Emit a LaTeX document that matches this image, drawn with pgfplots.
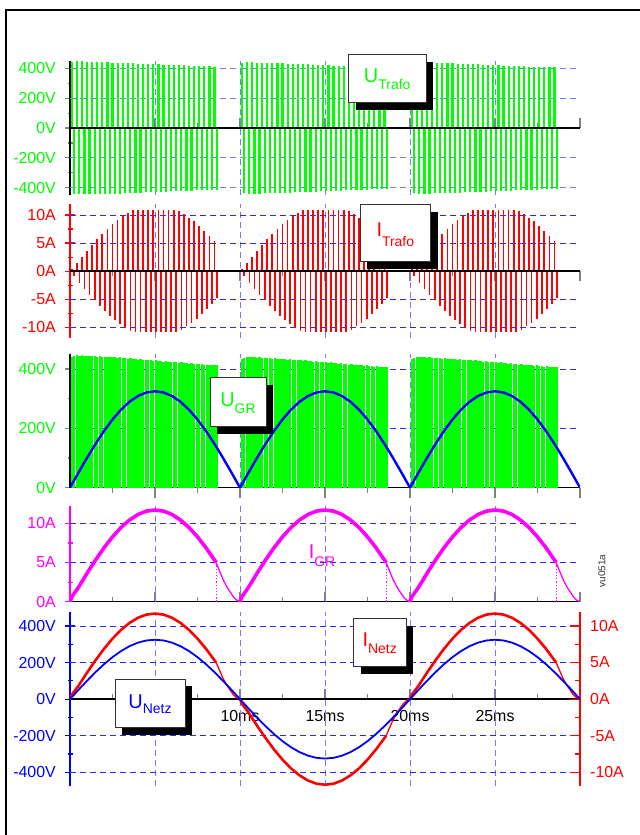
\documentclass[border=0pt]{standalone}
\usepackage{fontspec}
\setmainfont{Liberation Sans}
\usepackage{pgfplots}
\pgfplotsset{compat=1.18}

\definecolor{vgreen}{RGB}{0,255,0}
\definecolor{vred}{RGB}{255,0,0}
\definecolor{vmag}{RGB}{255,0,255}
\definecolor{vblue}{RGB}{0,0,255}
\definecolor{gridblue}{RGB}{40,40,255}
\definecolor{gridlight}{RGB}{120,120,255}

\tikzset{
  vlabel/.style={font=\fontsize{20}{20}\selectfont, inner sep=0pt},
  gridd/.style={gridblue, line width=0.9bp, dash pattern=on 6bp off 4bp},
  gridl/.style={gridlight, line width=1bp, dash pattern=on 6bp off 4bp},
}
\pgfplotsset{
  panel/.style={
    scale only axis, width=510bp, anchor=south west,
    xmin=0, xmax=30,
    axis x line=middle, axis y line=left,
    axis line style={-},
    x axis line style={black, line width=1.6bp},
    xtick={0,5,10,15,20,25,30},
    minor xtick={2.5,7.5,12.5,17.5,22.5,27.5},
    xticklabels={},
    major tick length=10bp, minor tick length=5bp,
    tick style={line width=1.2bp},
    tick label style={font=\fontsize{16}{16}\selectfont},
    yticklabel style={anchor=east, inner sep=0pt, xshift=-9bp},
  },
}
% dashed time grid of one panel, from the lower to the upper y limit
\newcommand{\timegrid}[2]{%
  \pgfplotsinvokeforeach{5,10,15,20,25}{\draw[gridl] (axis cs:##1,#1) -- (axis cs:##1,#2);}}
% dashed level grid at the given y values
\newcommand{\levelgrid}[2]{%
  \pgfplotsinvokeforeach{#2}{\draw[#1] (axis cs:0,##1) -- (axis cs:30,##1);}}
\newcommand{\sub}[2][7bp]{\raisebox{-#1}{\fontsize{14}{14}\selectfont #2}}

\begin{document}
\begin{tikzpicture}[x=1bp,y=1bp]
\useasboundingbox (0,0) rectangle (640,835);
\draw[line width=2bp] (6,0) -- (6,825) -- (640,825);

% ---------------- transformer voltage ----------------
\begin{axis}[panel, at={(70bp,639.8bp)}, height=134.3bp,
  ymin=-450, ymax=450,
  ytick={-400,-200,0,200,400}, yticklabels={-400V,-200V,0V,200V,400V},
  minor ytick={-300,-100,100,300},
  y axis line style={black, line width=1.6bp},
  yticklabel style={vgreen},
  xtick align=inside]
\timegrid{-450}{450}
\levelgrid{gridl}{-400,-200,200,400}
\addplot[ycomb, vgreen, line width=2.2bp] coordinates {
(0.10,440) (0.25,-444) (0.40,446) (0.55,-445) (0.70,446) (0.85,-445) (1.00,444) (1.15,-445) (1.30,443) (1.45,-444)
(1.60,442) (1.75,-443) (1.90,441) (2.05,-442) (2.20,440) (2.35,-441) (2.50,439) (2.65,-440) (2.80,438) (2.95,-439)
(3.10,436) (3.25,-437) (3.40,435) (3.55,-436) (3.70,434) (3.85,-435) (4.00,432) (4.15,-433) (4.30,431) (4.45,-432)
(4.60,429) (4.75,-430) (4.90,428) (5.05,-429) (5.20,427) (5.35,-428) (5.50,425) (5.65,-426) (5.80,424) (5.95,-425)
(6.10,423) (6.25,-424) (6.40,421) (6.55,-422) (6.70,420) (6.85,-421) (7.00,418) (7.15,-419) (7.30,417) (7.45,-418)
(7.60,416) (7.75,-417) (7.90,414) (8.05,-415) (8.20,413) (8.35,-414) (8.50,412) (8.65,-412)
(10.10,434) (10.25,-438) (10.40,440) (10.55,-439) (10.70,440) (10.85,-439) (11.00,438) (11.15,-439) (11.30,437) (11.45,-438)
(11.60,436) (11.75,-437) (11.90,435) (12.05,-436) (12.20,434) (12.35,-435) (12.50,433) (12.65,-434) (12.80,432) (12.95,-433)
(13.10,430) (13.25,-431) (13.40,429) (13.55,-430) (13.70,428) (13.85,-429) (14.00,426) (14.15,-427) (14.30,425) (14.45,-426)
(14.60,423) (14.75,-424) (14.90,422) (15.05,-423) (15.20,421) (15.35,-422) (15.50,419) (15.65,-420) (15.80,418) (15.95,-419)
(16.10,417) (16.25,-418) (16.40,415) (16.55,-416) (16.70,414) (16.85,-415) (17.00,412) (17.15,-413) (17.30,411) (17.45,-412)
(17.60,410) (17.75,-411) (17.90,408) (18.05,-409) (18.20,407) (18.35,-408) (18.50,406) (18.65,-406)
(20.10,434) (20.25,-438) (20.40,440) (20.55,-439) (20.70,440) (20.85,-439) (21.00,438) (21.15,-439) (21.30,437) (21.45,-438)
(21.60,436) (21.75,-437) (21.90,435) (22.05,-436) (22.20,434) (22.35,-435) (22.50,433) (22.65,-434) (22.80,432) (22.95,-433)
(23.10,430) (23.25,-431) (23.40,429) (23.55,-430) (23.70,428) (23.85,-429) (24.00,426) (24.15,-427) (24.30,425) (24.45,-426)
(24.60,423) (24.75,-424) (24.90,422) (25.05,-423) (25.20,421) (25.35,-422) (25.50,419) (25.65,-420) (25.80,418) (25.95,-419)
(26.10,417) (26.25,-418) (26.40,415) (26.55,-416) (26.70,414) (26.85,-415) (27.00,412) (27.15,-413) (27.30,411) (27.45,-412)
(27.60,410) (27.75,-411) (27.90,408) (28.05,-409) (28.20,407) (28.35,-408) (28.50,406) (28.65,-406)
};
\addplot[black, line width=1.6bp] coordinates {(0,0) (30,0)};
\end{axis}

% ---------------- transformer current ----------------
\begin{axis}[panel, at={(70bp,497.05bp)}, height=133.6bp,
  ymin=-11.9, ymax=11.9,
  ytick={-10,-5,0,5,10}, yticklabels={-10A,-5A,0A,5A,10A},
  minor ytick={-7.5,-2.5,2.5,7.5},
  y axis line style={vred, line width=1.6bp}, ytick style={vred},
  yticklabel style={vred},
  xtick align=outside]
\timegrid{-11.9}{11.9}
\levelgrid{gridd}{-10,-5,5,10}
\addplot[ycomb, vred, line width=1.7bp] coordinates {
(0.10,0.37) (0.25,-0.93) (0.40,1.48) (0.55,-2.03) (0.70,2.57) (0.85,-3.11) (1.00,3.65) (1.15,-4.17) (1.30,4.69) (1.45,-5.19)
(1.60,5.69) (1.75,-6.17) (1.90,6.63) (2.05,-7.08) (2.20,7.52) (2.35,-7.94) (2.50,8.34) (2.65,-8.73) (2.80,9.09) (2.95,-9.44)
(3.10,9.76) (3.25,-10.06) (3.40,10.34) (3.55,-10.60) (3.70,10.83) (3.85,-10.9) (4.00,10.9) (4.15,-10.9) (4.30,10.9) (4.45,-10.9)
(4.60,10.9) (4.75,-10.9) (4.90,10.9) (5.05,-10.9) (5.20,10.9) (5.35,-10.9) (5.50,10.9) (5.65,-10.9) (5.80,10.9) (5.95,-10.9)
(6.10,10.9) (6.25,-10.9) (6.40,10.68) (6.55,-10.43) (6.70,10.16) (6.85,-9.86) (7.00,9.55) (7.15,-9.21) (7.30,8.85) (7.45,-8.47)
(7.60,8.08) (7.75,-7.66) (7.90,7.23) (8.05,-6.79) (8.20,6.32) (8.35,-5.85) (8.50,5.36) (8.65,-4.86)
(10.10,0.37) (10.25,-0.93) (10.40,1.48) (10.55,-2.03) (10.70,2.57) (10.85,-3.11) (11.00,3.65) (11.15,-4.17) (11.30,4.69) (11.45,-5.19)
(11.60,5.69) (11.75,-6.17) (11.90,6.63) (12.05,-7.08) (12.20,7.52) (12.35,-7.94) (12.50,8.34) (12.65,-8.73) (12.80,9.09) (12.95,-9.44)
(13.10,9.76) (13.25,-10.06) (13.40,10.34) (13.55,-10.60) (13.70,10.83) (13.85,-10.9) (14.00,10.9) (14.15,-10.9) (14.30,10.9) (14.45,-10.9)
(14.60,10.9) (14.75,-10.9) (14.90,10.9) (15.05,-10.9) (15.20,10.9) (15.35,-10.9) (15.50,10.9) (15.65,-10.9) (15.80,10.9) (15.95,-10.9)
(16.10,10.9) (16.25,-10.9) (16.40,10.68) (16.55,-10.43) (16.70,10.16) (16.85,-9.86) (17.00,9.55) (17.15,-9.21) (17.30,8.85) (17.45,-8.47)
(17.60,8.08) (17.75,-7.66) (17.90,7.23) (18.05,-6.79) (18.20,6.32) (18.35,-5.85) (18.50,5.36) (18.65,-4.86)
(20.10,0.37) (20.25,-0.93) (20.40,1.48) (20.55,-2.03) (20.70,2.57) (20.85,-3.11) (21.00,3.65) (21.15,-4.17) (21.30,4.69) (21.45,-5.19)
(21.60,5.69) (21.75,-6.17) (21.90,6.63) (22.05,-7.08) (22.20,7.52) (22.35,-7.94) (22.50,8.34) (22.65,-8.73) (22.80,9.09) (22.95,-9.44)
(23.10,9.76) (23.25,-10.06) (23.40,10.34) (23.55,-10.60) (23.70,10.83) (23.85,-10.9) (24.00,10.9) (24.15,-10.9) (24.30,10.9) (24.45,-10.9)
(24.60,10.9) (24.75,-10.9) (24.90,10.9) (25.05,-10.9) (25.20,10.9) (25.35,-10.9) (25.50,10.9) (25.65,-10.9) (25.80,10.9) (25.95,-10.9)
(26.10,10.9) (26.25,-10.9) (26.40,10.68) (26.55,-10.43) (26.70,10.16) (26.85,-9.86) (27.00,9.55) (27.15,-9.21) (27.30,8.85) (27.45,-8.47)
(27.60,8.08) (27.75,-7.66) (27.90,7.23) (28.05,-6.79) (28.20,6.32) (28.35,-5.85) (28.50,5.36) (28.65,-4.86)
};
\addplot[black, line width=1.6bp] coordinates {(0,0) (30,0)};
\end{axis}

% ---------------- rectifier voltage ----------------
\begin{axis}[panel, at={(70bp,347.3bp)}, height=133.5bp,
  ymin=0, ymax=450,
  ytick={0,200,400}, yticklabels={0V,200V,400V},
  minor ytick={100,300},
  y axis line style={black, line width=1.6bp},
  yticklabel style={vgreen},
  xtick align=outside]
\timegrid{0}{450}
\levelgrid{gridd}{200,400}
\addplot[ycomb, vgreen, line width=2.3bp] coordinates {
(0.10,440) (0.25,444) (0.40,446) (0.55,445) (0.70,446) (0.85,445) (1.00,444) (1.15,445) (1.30,443) (1.45,444)
(1.60,442) (1.75,443) (1.90,441) (2.05,442) (2.20,440) (2.35,441) (2.50,439) (2.65,440) (2.80,438) (2.95,439)
(3.10,436) (3.25,437) (3.40,435) (3.55,436) (3.70,434) (3.85,435) (4.00,432) (4.15,433) (4.30,431) (4.45,432)
(4.60,429) (4.75,430) (4.90,428) (5.05,429) (5.20,427) (5.35,428) (5.50,425) (5.65,426) (5.80,424) (5.95,425)
(6.10,423) (6.25,424) (6.40,421) (6.55,422) (6.70,420) (6.85,421) (7.00,418) (7.15,419) (7.30,417) (7.45,418)
(7.60,416) (7.75,417) (7.90,414) (8.05,415) (8.20,413) (8.35,414) (8.50,412) (8.65,412)
(10.10,434) (10.25,438) (10.40,440) (10.55,439) (10.70,440) (10.85,439) (11.00,438) (11.15,439) (11.30,437) (11.45,438)
(11.60,436) (11.75,437) (11.90,435) (12.05,436) (12.20,434) (12.35,435) (12.50,433) (12.65,434) (12.80,432) (12.95,433)
(13.10,430) (13.25,431) (13.40,429) (13.55,430) (13.70,428) (13.85,429) (14.00,426) (14.15,427) (14.30,425) (14.45,426)
(14.60,423) (14.75,424) (14.90,422) (15.05,423) (15.20,421) (15.35,422) (15.50,419) (15.65,420) (15.80,418) (15.95,419)
(16.10,417) (16.25,418) (16.40,415) (16.55,416) (16.70,414) (16.85,415) (17.00,412) (17.15,413) (17.30,411) (17.45,412)
(17.60,410) (17.75,411) (17.90,408) (18.05,409) (18.20,407) (18.35,408) (18.50,406) (18.65,406)
(20.10,434) (20.25,438) (20.40,440) (20.55,439) (20.70,440) (20.85,439) (21.00,438) (21.15,439) (21.30,437) (21.45,438)
(21.60,436) (21.75,437) (21.90,435) (22.05,436) (22.20,434) (22.35,435) (22.50,433) (22.65,434) (22.80,432) (22.95,433)
(23.10,430) (23.25,431) (23.40,429) (23.55,430) (23.70,428) (23.85,429) (24.00,426) (24.15,427) (24.30,425) (24.45,426)
(24.60,423) (24.75,424) (24.90,422) (25.05,423) (25.20,421) (25.35,422) (25.50,419) (25.65,420) (25.80,418) (25.95,419)
(26.10,417) (26.25,418) (26.40,415) (26.55,416) (26.70,414) (26.85,415) (27.00,412) (27.15,413) (27.30,411) (27.45,412)
(27.60,410) (27.75,411) (27.90,408) (28.05,409) (28.20,407) (28.35,408) (28.50,406) (28.65,406)
};
\addplot[vblue, line width=2.4bp] coordinates {
(0,0) (0.5,50.8) (1,100.4) (1.5,147.5) (2,191.0) (2.5,229.8) (3,262.9) (3.5,289.6) (4,309.1) (4.5,321.0) (5,325)
(5.5,321.0) (6,309.1) (6.5,289.6) (7,262.9) (7.5,229.8) (8,191.0) (8.5,147.5) (9,100.4) (9.5,50.8) (10,0)
(10.5,50.8) (11,100.4) (11.5,147.5) (12,191.0) (12.5,229.8) (13,262.9) (13.5,289.6) (14,309.1) (14.5,321.0) (15,325)
(15.5,321.0) (16,309.1) (16.5,289.6) (17,262.9) (17.5,229.8) (18,191.0) (18.5,147.5) (19,100.4) (19.5,50.8) (20,0)
(20.5,50.8) (21,100.4) (21.5,147.5) (22,191.0) (22.5,229.8) (23,262.9) (23.5,289.6) (24,309.1) (24.5,321.0) (25,325)
(25.5,321.0) (26,309.1) (26.5,289.6) (27,262.9) (27.5,229.8) (28,191.0) (28.5,147.5) (29,100.4) (29.5,50.8) (30,0)
};
\end{axis}

% ---------------- rectifier current ----------------
\begin{axis}[panel, at={(70bp,233.3bp)}, height=95.6bp,
  ymin=0, ymax=12.2,
  ytick={0,5,10}, yticklabels={0A,5A,10A},
  minor ytick={2.5,7.5},
  y axis line style={vmag, line width=1.6bp}, ytick style={vmag},
  yticklabel style={vmag},
  xtick align=inside]
\timegrid{0}{12.2}
\levelgrid{gridd}{5,10}
\addplot[vmag, line width=3.6bp] coordinates {
(0,0) (0.1,0.6) (0.5,1.83) (1,3.62) (1.5,5.31) (2,6.88) (2.5,8.27) (3,9.47) (3.5,10.42) (4,11.13) (4.5,11.56) (5,11.7)
(5.5,11.56) (6,11.13) (6.5,10.42) (7,9.47) (7.5,8.27) (8,6.88) (8.5,5.31) (8.6,4.98)};
\addplot[vmag, line width=1.3bp] coordinates {
(8.6,4.98) (8.8,3.9) (9.0,2.85) (9.2,2.0) (9.4,1.3) (9.6,0.65) (9.8,0.2) (10,0)};
\addplot[vmag, line width=3.6bp] coordinates {
(10,0) (10.1,0.6) (10.5,1.83) (11,3.62) (11.5,5.31) (12,6.88) (12.5,8.27) (13,9.47) (13.5,10.42) (14,11.13) (14.5,11.56) (15,11.7)
(15.5,11.56) (16,11.13) (16.5,10.42) (17,9.47) (17.5,8.27) (18,6.88) (18.5,5.31) (18.6,4.98)};
\addplot[vmag, line width=1.3bp] coordinates {
(18.6,4.98) (18.8,3.9) (19.0,2.85) (19.2,2.0) (19.4,1.3) (19.6,0.65) (19.8,0.2) (20,0)};
\addplot[vmag, line width=3.6bp] coordinates {
(20,0) (20.1,0.6) (20.5,1.83) (21,3.62) (21.5,5.31) (22,6.88) (22.5,8.27) (23,9.47) (23.5,10.42) (24,11.13) (24.5,11.56) (25,11.7)
(25.5,11.56) (26,11.13) (26.5,10.42) (27,9.47) (27.5,8.27) (28,6.88) (28.5,5.31) (28.6,4.98)};
\addplot[vmag, line width=1.3bp] coordinates {
(28.6,4.98) (28.8,3.9) (29.0,2.85) (29.2,2.0) (29.4,1.3) (29.6,0.65) (29.8,0.2) (30,0)};
\addplot[vmag, line width=1.2bp, dotted] coordinates {(8.6,0) (8.6,4.98)};
\addplot[vmag, line width=1.2bp, dotted] coordinates {(18.6,0) (18.6,4.98)};
\addplot[vmag, line width=1.2bp, dotted] coordinates {(28.6,0) (28.6,4.98)};
\end{axis}

% ---------------- mains: voltage scale, grid and time labels ----------------
\begin{axis}[panel, at={(70bp,49bp)}, height=173.7bp,
  ymin=-475, ymax=475,
  ytick={-400,-200,0,200,400}, yticklabels={-400V,-200V,0V,200V,400V},
  minor ytick={-300,-100,100,300},
  y axis line style={vblue, line width=1.6bp}, ytick style={vblue},
  yticklabel style={vblue},
  xticklabels={{},{},10ms,15ms,20ms,25ms,{}},
  xticklabel style={black, anchor=north, inner sep=0pt, yshift=-11bp},
  xtick align=inside]
\timegrid{-475}{475}
\levelgrid{gridd}{-400,-200,200,400}
\addplot[black, line width=1.6bp] coordinates {(0,0) (30,0)};
\end{axis}

% mains current, right scale
\begin{axis}[scale only axis, width=510bp, height=173.7bp, at={(70bp,49bp)}, anchor=south west,
  xmin=0, xmax=30, ymin=-11.875, ymax=11.875,
  axis x line=none, axis y line*=right, axis line style={-},
  y axis line style={vred, line width=1.6bp},
  ytick={-10,-5,0,5,10}, yticklabels={-10A,-5A,0A,5A,10A},
  minor ytick={-7.5,-2.5,2.5,7.5},
  major tick length=10bp, minor tick length=5bp,
  tick style={line width=1.2bp}, ytick style={vred},
  tick label style={font=\fontsize{16}{16}\selectfont},
  yticklabel style={vred, anchor=west, inner sep=0pt, xshift=10bp}]
\addplot[vred, line width=2.6bp] coordinates {
(0,0) (0.1,0.6) (0.5,1.83) (1,3.62) (1.5,5.31) (2,6.88) (2.5,8.27) (3,9.47) (3.5,10.42) (4,11.13) (4.5,11.56) (5,11.7)
(5.5,11.56) (6,11.13) (6.5,10.42) (7,9.47) (7.5,8.27) (8,6.88) (8.5,5.31) (8.6,4.98)};
\addplot[vred, line width=1.3bp] coordinates {
(8.6,4.98) (8.8,3.9) (9.0,2.85) (9.2,2.0) (9.4,1.3) (9.6,0.65) (9.8,0.2) (10,0)};
\addplot[vred, line width=2.6bp] coordinates {
(10,0) (10.1,-0.6) (10.5,-1.83) (11,-3.62) (11.5,-5.31) (12,-6.88) (12.5,-8.27) (13,-9.47) (13.5,-10.42) (14,-11.13) (14.5,-11.56) (15,-11.7)
(15.5,-11.56) (16,-11.13) (16.5,-10.42) (17,-9.47) (17.5,-8.27) (18,-6.88) (18.5,-5.31) (18.6,-4.98)};
\addplot[vred, line width=1.3bp] coordinates {
(18.6,-4.98) (18.8,-3.9) (19.0,-2.85) (19.2,-2.0) (19.4,-1.3) (19.6,-0.65) (19.8,-0.2) (20,0)};
\addplot[vred, line width=2.6bp] coordinates {
(20,0) (20.1,0.6) (20.5,1.83) (21,3.62) (21.5,5.31) (22,6.88) (22.5,8.27) (23,9.47) (23.5,10.42) (24,11.13) (24.5,11.56) (25,11.7)
(25.5,11.56) (26,11.13) (26.5,10.42) (27,9.47) (27.5,8.27) (28,6.88) (28.5,5.31) (28.6,4.98)};
\addplot[vred, line width=1.3bp] coordinates {
(28.6,4.98) (28.8,3.9) (29.0,2.85) (29.2,2.0) (29.4,1.3) (29.6,0.65) (29.8,0.2) (30,0)};
\end{axis}

% mains voltage curve
\begin{axis}[scale only axis, width=510bp, height=173.7bp, at={(70bp,49bp)}, anchor=south west,
  xmin=0, xmax=30, ymin=-475, ymax=475, hide axis]
\addplot[vblue, line width=1.8bp] coordinates {
(0,0) (0.5,50.8) (1,100.4) (1.5,147.5) (2,191.0) (2.5,229.8) (3,262.9) (3.5,289.6) (4,309.1) (4.5,321.0) (5,325)
(5.5,321.0) (6,309.1) (6.5,289.6) (7,262.9) (7.5,229.8) (8,191.0) (8.5,147.5) (9,100.4) (9.5,50.8) (10,0)
(10.5,-50.8) (11,-100.4) (11.5,-147.5) (12,-191.0) (12.5,-229.8) (13,-262.9) (13.5,-289.6) (14,-309.1) (14.5,-321.0) (15,-325)
(15.5,-321.0) (16,-309.1) (16.5,-289.6) (17,-262.9) (17.5,-229.8) (18,-191.0) (18.5,-147.5) (19,-100.4) (19.5,-50.8) (20,0)
(20.5,50.8) (21,100.4) (21.5,147.5) (22,191.0) (22.5,229.8) (23,262.9) (23.5,289.6) (24,309.1) (24.5,321.0) (25,325)
(25.5,321.0) (26,309.1) (26.5,289.6) (27,262.9) (27.5,229.8) (28,191.0) (28.5,147.5) (29,100.4) (29.5,50.8) (30,0)
};
\end{axis}

% ---------------- signal name boxes ----------------
\fill[black] (355.6,725) rectangle (433.3,773.4);
\draw[fill=white, draw=black!80, line width=0.8bp] (348.3,732.3) rectangle (426,780.7);
\node[vlabel, vgreen] at (387.2,755.5) {U\sub{Trafo}};

\fill[black] (367.3,565.9) rectangle (438,623.4);
\draw[fill=white, draw=black!80, line width=0.8bp] (360,573.3) rectangle (430.7,630.7);
\node[vlabel, vred] at (395.3,600) {I\sub[10bp]{Trafo}};

\fill[black] (217.3,401) rectangle (273.3,450);
\draw[fill=white, draw=black!80, line width=0.8bp] (210,408.3) rectangle (266,457.3);
\node[vlabel, vgreen] at (238,431.8) {U\sub{GR}};

\node[vlabel, vmag] at (322,279) {I\sub[8bp]{GR}};

\fill[black] (360.6,161) rectangle (413.3,209.4);
\draw[fill=white, draw=black!80, line width=0.8bp] (353.3,168.3) rectangle (406,216.7);
\node[vlabel, vred] at (379.7,191.5) {I\sub{Netz}};

\fill[black] (122.3,100) rectangle (192.3,148.7);
\draw[fill=white, draw=black!80, line width=0.8bp] (115,107.3) rectangle (185,156);
\node[vlabel, vblue] at (150,131) {U\sub[5bp]{Netz}};

\node[rotate=90, font=\fontsize{10}{10}\selectfont, black!80] at (602,264) {vu051a};
\end{tikzpicture}
\end{document}
